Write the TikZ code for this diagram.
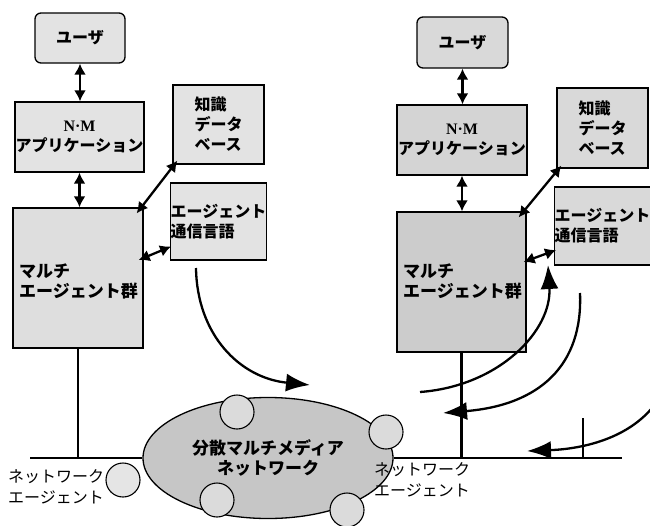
\documentclass[tikz,border=0pt]{standalone}
\usepackage{fontspec}
\newfontfamily\jp{Noto Sans CJK JP}
\newfontfamily\serif{Liberation Serif}
\usetikzlibrary{arrows.meta,shapes.geometric,calc}
\tikzset{
  box/.style={draw, line width=1.3pt, fill=gray!22, inner sep=0pt, align=center,
    font=\jp\bfseries\fontsize{16}{20}\selectfont},
  ubox/.style={box, rounded corners=6pt},
  jtxt/.style={inner sep=0pt, align=left, font=\jp\bfseries\fontsize{17}{20}\selectfont},
  lbl/.style={inner sep=0pt, align=left, font=\jp\fontsize{16}{21}\selectfont},
  na/.style={draw, circle, line width=1.1pt, fill=gray!28, minimum size=34pt, inner sep=0pt},
  dbl/.style={line width=2.3pt, {Latex[length=11pt,width=12pt]}-{Latex[length=11pt,width=12pt]}},
  wire/.style={line width=2.4pt},
  flow/.style={line width=2.3pt, -{Latex[length=24pt,width=18pt]}}
}
\begin{document}
\begin{tikzpicture}[x=1pt,y=-1pt]
\useasboundingbox (0,0) rectangle (650,525);
\fill[white] (0,0) rectangle (650,525);

% ---------- left column ----------
\node[ubox, minimum width=90pt, minimum height=50pt] (user1) at (80,38) {ユーザ};
\node[box, minimum width=129pt, minimum height=70pt] (nm1) at (79.5,137) {{\serif\bfseries N·M}\\アプリケーション};
\node[box, align=left, minimum width=91pt, minimum height=79pt] (kb1) at (218.5,124.5) {知識\\データ\\ベース};
\node[box, align=left, minimum width=91pt, minimum height=77pt] (acl1) at (218.5,221.5) {エージェント\\通信言語};
\node[box, fill=gray!26, minimum width=130pt, minimum height=140pt] (ma1) at (78,278) {};
\node[jtxt, anchor=north west] (ma1t) at (19,264) {マルチ\\エージェント群};

% ---------- right column ----------
\node[ubox, fill=gray!30, minimum width=91pt, minimum height=51pt] (user2) at (462.5,42.5) {ユーザ};
\node[box, fill=gray!34, minimum width=130pt, minimum height=70pt] (nm2) at (462,140) {{\serif\bfseries N·M}\\アプリケーション};
\node[box, align=left, fill=gray!30, minimum width=91pt, minimum height=80pt] (kb2) at (602.5,128) {知識\\データ\\ベース};
\node[box, align=left, fill=gray!30, minimum width=91pt, minimum height=78pt] (acl2) at (602.5,226) {エージェント\\通信言語};
\node[box, fill=gray!40, minimum width=129pt, minimum height=140pt] (ma2) at (461.5,282) {};
\node[jtxt, anchor=north west] (ma2t) at (403,264) {マルチ\\エージェント群};

% ---------- network ----------
\node[draw, ellipse, line width=1.3pt, fill=gray!45, minimum width=250pt, minimum height=121pt, inner sep=0pt,
      align=center, font=\jp\bfseries\fontsize{17}{20}\selectfont] (net) at (268,458) {分散マルチメディア\\ネットワーク};
\node[na] (c1) at (237,412) {};
\node[na] (c2) at (386,432) {};
\node[na] (c3) at (217,500) {};
\node[na] (c4) at (347,510) {};
\node[na, fill=gray!20] (c5) at (123,480) {};

\node[lbl, anchor=west] (lab1) at (8,487) {ネットワーク\\エージェント};
\node[lbl, anchor=west] (lab2) at (374,480) {ネットワーク\\エージェント};

% ---------- wires ----------
\coordinate (busL) at (30,458);
\coordinate (busR) at (622,458);
\coordinate (tick) at (583,418);
\draw[wire] (busL) -- (net.west);
\draw[wire] (net.east) -- (busR);
\draw[wire] (ma1.south) -- (ma1.south |- busL);
\draw[wire] (ma2.south) -- (ma2.south |- busR);
\draw[wire] (tick) -- (tick |- busR);

% ---------- double arrows ----------
\draw[dbl] (user1.south) -- (user1.south |- nm1.north);
\draw[dbl] (nm1.south) -- (nm1.south |- ma1.north);
\draw[dbl] ($(kb1.south west)+(5,-4)$) -- ($(ma1.north east)+(-7,6)$);
\draw[dbl] ($(acl1.west)+(1,25)$) -- ($(ma1.east)+(-5,-18)$);

\draw[dbl] (user2.south) -- (user2.south |- nm2.north);
\draw[dbl] (nm2.south) -- (nm2.south |- ma2.north);
\draw[dbl] ($(kb2.south west)+(5,-3)$) -- ($(ma2.north east)+(-8,6)$);
\draw[dbl] ($(acl2.west)+(2,24)$) -- ($(ma2.east)+(-3,-20)$);

% ---------- flow arrows ----------
\coordinate (fA) at (196,268);
\coordinate (fAe) at (310,385);
\draw[flow] (fA) .. controls (197,335) and (240,378) .. (fAe);

\coordinate (fB) at (420,392);
\coordinate (fBe) at (548,265);
\draw[flow] (fB) .. controls (500,386) and (552,330) .. (fBe);

\coordinate (fC) at (580,293);
\coordinate (fCe) at (443,413);
\draw[flow] (fC) .. controls (583,365) and (540,405) .. (fCe);

\coordinate (fD) at (652,408);
\coordinate (fDe) at (527,451);
\draw[flow] (fD) .. controls (625,440) and (580,449) .. (fDe);
\end{tikzpicture}
\end{document}
